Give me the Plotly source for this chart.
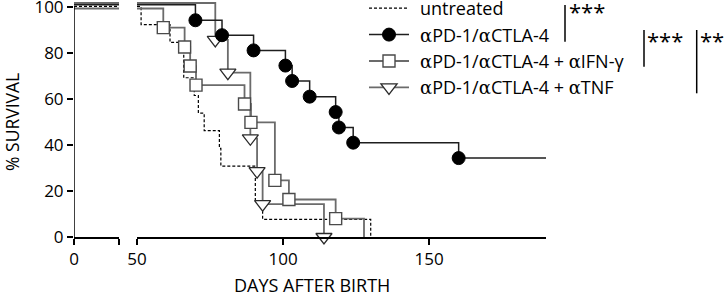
import plotly.graph_objects as go

# ---------------- data ----------------
untreated_days = [51.4, 61.3, 66.0, 69.6, 71.0, 73.0, 78.2, 78.7, 90.5, 93.0, 130.0]
untreated_surv = [92.3, 84.6, 69.2, 61.5, 53.8, 46.2, 38.5, 30.8, 15.4, 7.7, 0.0]

combo_days = [70.0, 79.1, 89.9, 100.8, 103.1, 109.1, 118.0, 119.1, 124.0, 160.1]
combo_surv = [94.2, 87.7, 81.1, 74.5, 67.8, 61.0, 54.3, 47.6, 41.0, 34.3]
combo_last_followup = 190

ifn_days = [59.0, 66.3, 68.2, 70.2, 86.8, 89.0, 97.2, 102.0, 118.0, 127.7]
ifn_surv = [91.0, 82.6, 74.3, 66.0, 57.8, 49.8, 24.6, 16.3, 8.0, 0.0]

tnf_days = [76.8, 81.1, 88.8, 91.1, 93.0, 114.0]
tnf_surv = [85.7, 71.4, 42.9, 28.6, 14.3, 0.0]

start_survival = 100
y_ticks = [0, 20, 40, 60, 80, 100]
x2_ticks = [50, 100, 150]

A = '<span style="font-family:\'DejaVu Serif\'">α</span>'
PAD = "\u2009\u2009"
names = {
    "untreated": PAD + "untreated",
    "combo": PAD + f"{A}PD-1/{A}CTLA-4",
    "ifn": PAD + f"{A}PD-1/{A}CTLA-4 + {A}IFN-γ",
    "tnf": PAD + f"{A}PD-1/{A}CTLA-4 + {A}TNF",
}

# ---------------- styling ----------------
FONT = "Open Sans"
GREY = "#6b6b6b"
seg1_end = 15.45          # width of the first (broken) axis segment, in days
x2_range = [50, 190]
# GraphPad draws the overlapping 100% lines slightly apart
stack_offset = {"untreated": 0.2, "combo": 0.9, "ifn": -0.7, "tnf": 1.7}

line_style = {
    "untreated": dict(color="black", width=1.2, dash="3px,2px"),
    "combo": dict(color="#1e1e1e", width=1.5),
    "ifn": dict(color=GREY, width=1.8),
    "tnf": dict(color=GREY, width=1.8),
}
marker_style = {
    "combo": dict(symbol="circle", size=13, color="black", line=dict(color="black", width=1)),
    "ifn": dict(symbol="square", size=12, color="white", line=dict(color="#4a4a4a", width=1.4)),
    "tnf": dict(symbol="triangle-down", size=14, color="white", line=dict(color="#2a2a2a", width=1.3)),
}

series = {
    "untreated": (untreated_days, untreated_surv, None),
    "combo": (combo_days, combo_surv, combo_last_followup),
    "ifn": (ifn_days, ifn_surv, None),
    "tnf": (tnf_days, tnf_surv, None),
}
# which event points get a symbol
marked = {
    "combo": (combo_days, combo_surv),
    "ifn": (ifn_days[:-1], ifn_surv[:-1]),
    "tnf": (tnf_days, tnf_surv),
}

fig = go.Figure()
draw_order = ["untreated", "ifn", "tnf", "combo"]

# first axis segment (flat at 100 %)
for key in draw_order:
    y0 = start_survival + stack_offset[key]
    fig.add_trace(go.Scatter(x=[0, seg1_end], y=[y0, y0], mode="lines",
                             line=line_style[key], xaxis="x", yaxis="y",
                             showlegend=False, hoverinfo="skip"))

# second axis segment: step curves
for key in draw_order:
    days, surv, last = series[key]
    xs = [x2_range[0]] + list(days)
    ys = [start_survival + stack_offset[key]] + list(surv)
    if last is not None:
        xs.append(last)
        ys.append(surv[-1])
    fig.add_trace(go.Scatter(x=xs, y=ys, mode="lines", line=dict(**line_style[key]),
                             line_shape="hv", xaxis="x2", yaxis="y",
                             showlegend=False, hoverinfo="skip"))

for key in ["ifn", "tnf", "combo"]:
    mx, my = marked[key]
    fig.add_trace(go.Scatter(x=mx, y=my, mode="markers", marker=marker_style[key],
                             xaxis="x2", yaxis="y", cliponaxis=False,
                             showlegend=False, hoverinfo="skip"))

# legend entries
for key in ["untreated", "combo", "ifn", "tnf"]:
    fig.add_trace(go.Scatter(x=[None], y=[None], name=names[key],
                             mode="lines" if key == "untreated" else "lines+markers",
                             line=line_style[key],
                             marker=marker_style.get(key),
                             xaxis="x2", yaxis="y"))

# ---------------- layout ----------------
L, R, T, B = 74, 180, 0, 61
W, H = 726, 298
pw = W - L - R
ph = H - T - B

def px(xp):
    return (xp - L) / pw

def py(yp):
    return (H - B - yp) / ph

axis_common = dict(showline=True, linecolor="black", linewidth=1.5, ticks="outside",
                   ticklen=6, tickwidth=1.5, tickcolor="black", showgrid=False,
                   zeroline=False, automargin=False, ticklabeloverflow="allow",
                   tickfont=dict(family=FONT, size=17, color="black"))

seg2_start_px = 137
fig.update_layout(
    width=W, height=H, margin=dict(l=L, r=R, t=T, b=B, autoexpand=False),
    plot_bgcolor="white", paper_bgcolor="white",
    font=dict(family=FONT, size=17, color="black"),
    xaxis=dict(domain=[0, seg1_end * (pw - (seg2_start_px - L)) / (x2_range[1] - x2_range[0]) / pw],
               range=[0, seg1_end], tickvals=[0, seg1_end], ticktext=["0", ""],
               anchor="y", **axis_common),
    xaxis2=dict(domain=[px(seg2_start_px), 1], range=x2_range, tickvals=x2_ticks,
                anchor="y", **axis_common),
    yaxis=dict(range=[0, 103], tickvals=y_ticks, showline=False, ticks="outside",
               ticklen=6, tickwidth=1.5, tickcolor="black", showgrid=False, zeroline=False,
               automargin=False, ticklabeloverflow="allow",
               tickfont=dict(family=FONT, size=17, color="black")),
    legend=dict(x=px(364), y=1.0 + 10 / ph, xanchor="left", yanchor="top",
                bgcolor="rgba(0,0,0,0)", font=dict(family=FONT, size=18),
                itemwidth=40, tracegroupgap=0),
)

# y axis line only up to 100
fig.add_shape(type="line", xref="x", yref="y", x0=0, x1=0, y0=0, y1=100,
              line=dict(color="black", width=1.5))

# axis titles
fig.add_annotation(text="% SURVIVAL", xref="paper", yref="y", x=px(12), y=50,
                   textangle=-90, showarrow=False, font=dict(family=FONT, size=17.5),
                   xanchor="center", yanchor="middle")
fig.add_annotation(text="DAYS AFTER BIRTH", xref="paper", yref="paper", x=px(312), y=py(285),
                   showarrow=False, font=dict(family=FONT, size=18),
                   xanchor="center", yanchor="middle")

# significance brackets
brackets = [
    (565, 5, 41.7, "***", 567, 11),
    (644, 30, 66.7, "***", 645, 40),
    (696.7, 30, 93.3, "**", 698, 40),
]
for xb, y0b, y1b, txt, xt, yt in brackets:
    fig.add_shape(type="line", xref="paper", yref="paper", x0=px(xb), x1=px(xb),
                  y0=py(y0b), y1=py(y1b), line=dict(color="black", width=1.5))
    fig.add_annotation(text=txt, xref="paper", yref="paper", x=px(xt), y=py(yt),
                       showarrow=False, xanchor="left", yanchor="middle",
                       font=dict(family=FONT, size=22, color="black"))

fig.write_html("out.html", config={"displayModeBar": False},
               post_script="document.body.style.margin='0';document.body.style.overflow='hidden';")
